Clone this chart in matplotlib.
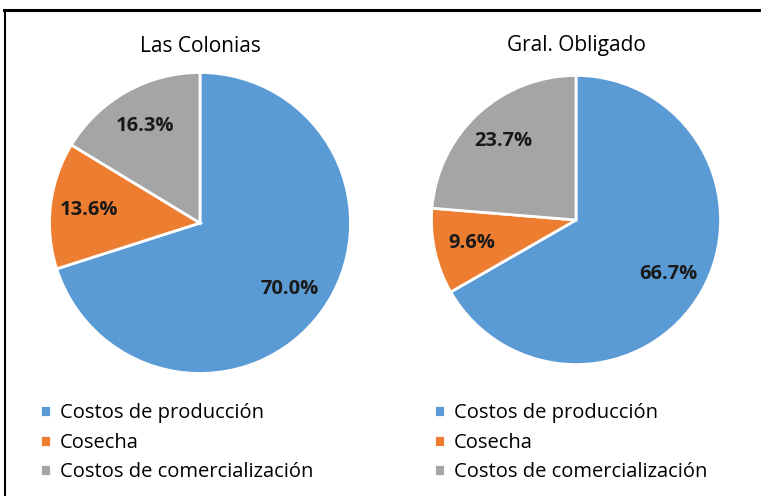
import matplotlib
matplotlib.use("Agg")
import matplotlib.pyplot as plt
from matplotlib.lines import Line2D

plt.rcParams['font.family'] = ['Open Sans', 'DejaVu Sans']

categories = ["Costos de producción", "Cosecha", "Costos de comercialización"]
regions = ["Las Colonias", "Gral. Obligado"]
las_colonias = [70.0, 13.6, 16.3]
gral_obligado = [66.7, 9.6, 23.7]
colors = ["#5B9BD5", "#ED7D31", "#A5A5A5"]

W, H = 761, 496
fig = plt.figure(figsize=(W / 100, H / 100), dpi=100)

# partial border: top and left edges only
fig.add_artist(Line2D([4 / W, 1.0], [1 - 9.5 / H, 1 - 9.5 / H], transform=fig.transFigure,
                      color="black", linewidth=2.2))
fig.add_artist(Line2D([5 / W, 5 / W], [1 - 9.5 / H, 0.0], transform=fig.transFigure,
                      color="black", linewidth=1.5))

pies = [(las_colonias, 200, 223, 152, 200, 46),
        (gral_obligado, 576, 220, 146, 576, 46)]

for (vals, cx, cy, r, tx, ty), name in zip(pies, regions):
    ax = fig.add_axes([(cx - r) / W, 1 - (cy + r) / H, 2 * r / W, 2 * r / H])
    labels = [f"{v:.1f}%" for v in vals]
    wedges, texts = ax.pie(vals, colors=colors, startangle=90, counterclock=False,
                           labels=labels, labeldistance=0.74, radius=1,
                           wedgeprops=dict(edgecolor="white", linewidth=2),
                           textprops=dict(fontsize=14.5, fontweight="bold", color="#1a1a1a"))
    for t in texts:
        t.set_ha("center")
        t.set_va("center")
    ax.set_xlim(-1.01, 1.01)
    ax.set_ylim(-1.01, 1.01)
    ax.set_aspect("equal")
    ax.axis("off")
    fig.text(tx / W, 1 - ty / H, name, ha="center", va="center", fontsize=15, color="#000000")

    leg = fig.legend(wedges, categories, loc="upper left",
                     bbox_to_anchor=((cx - 168) / W if cx < 400 else (cx - 150) / W, 1 - 395 / H),
                     frameon=False, fontsize=14.5, handlelength=0.55, handleheight=0.55,
                     handletextpad=0.45, labelspacing=0.48, borderaxespad=0)

fig.savefig("out.png", dpi=100)
